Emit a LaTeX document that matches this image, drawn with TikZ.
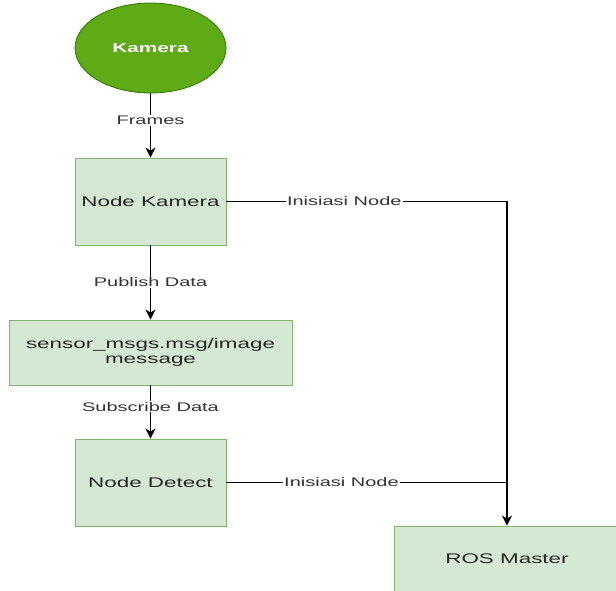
\documentclass[tikz,border=0pt]{standalone}
\usepackage{fontspec}
\setmainfont{Liberation Sans}[FakeStretch=1.6]
\usetikzlibrary{arrows.meta,shapes.geometric}
\definecolor{camgreen}{HTML}{60A917}
\definecolor{camedge}{HTML}{2D7600}
\definecolor{boxfill}{HTML}{D5E8D4}
\definecolor{boxedge}{HTML}{82B366}

\begin{document}
\begin{tikzpicture}[x=1pt,y=-1pt,->,>={Stealth[length=10pt,width=10pt,inset=3pt]},line width=1.3pt,
        cam node/.style={ellipse,draw=camedge,fill=camgreen,line width=0.8pt,minimum width=151pt,minimum height=90pt,text=white,font=\fontsize{13}{15}\selectfont\bfseries},
        ros node/.style={rectangle,draw=boxedge,fill=boxfill,line width=0.9pt,text=black!85,font=\fontsize{14}{15}\selectfont},
        flow label/.style={fill=white,inner sep=1pt,text=black!80,font=\fontsize{12.5}{15}\selectfont}]

      \clip (0,0) rectangle (616,590);

      \node[cam node] (kamera) at (150.5,48) {Kamera};
      \node[ros node,minimum width=151pt,minimum height=87pt] (nkamera) at (150.5,201.5) {Node Kamera};
      \node[ros node,minimum width=283pt,minimum height=65pt,align=center] (msg) at (150.5,352.5) {sensor\_msgs.msg/image\\message};
      \node[ros node,minimum width=151pt,minimum height=87pt] (detect) at (150.5,482.5) {Node Detect};
      \node[ros node,minimum width=226pt,minimum height=65pt] (master) at (507,558.5) {ROS Master};
      \coordinate (join) at (detect -| master);

      \path (kamera) edge node[flow label,pos=0.42] {Frames} (nkamera)
      (nkamera) edge node[flow label] {Publish Data} (msg)
      (msg) edge node[flow label,pos=0.4] {Subscribe Data} (detect);

      \draw (nkamera) -| node[flow label,pos=0.21] {Inisiasi Node} (master);
      \draw[-] (detect) -- node[flow label,pos=0.41] {Inisiasi Node} (join);
\end{tikzpicture}
\end{document}
